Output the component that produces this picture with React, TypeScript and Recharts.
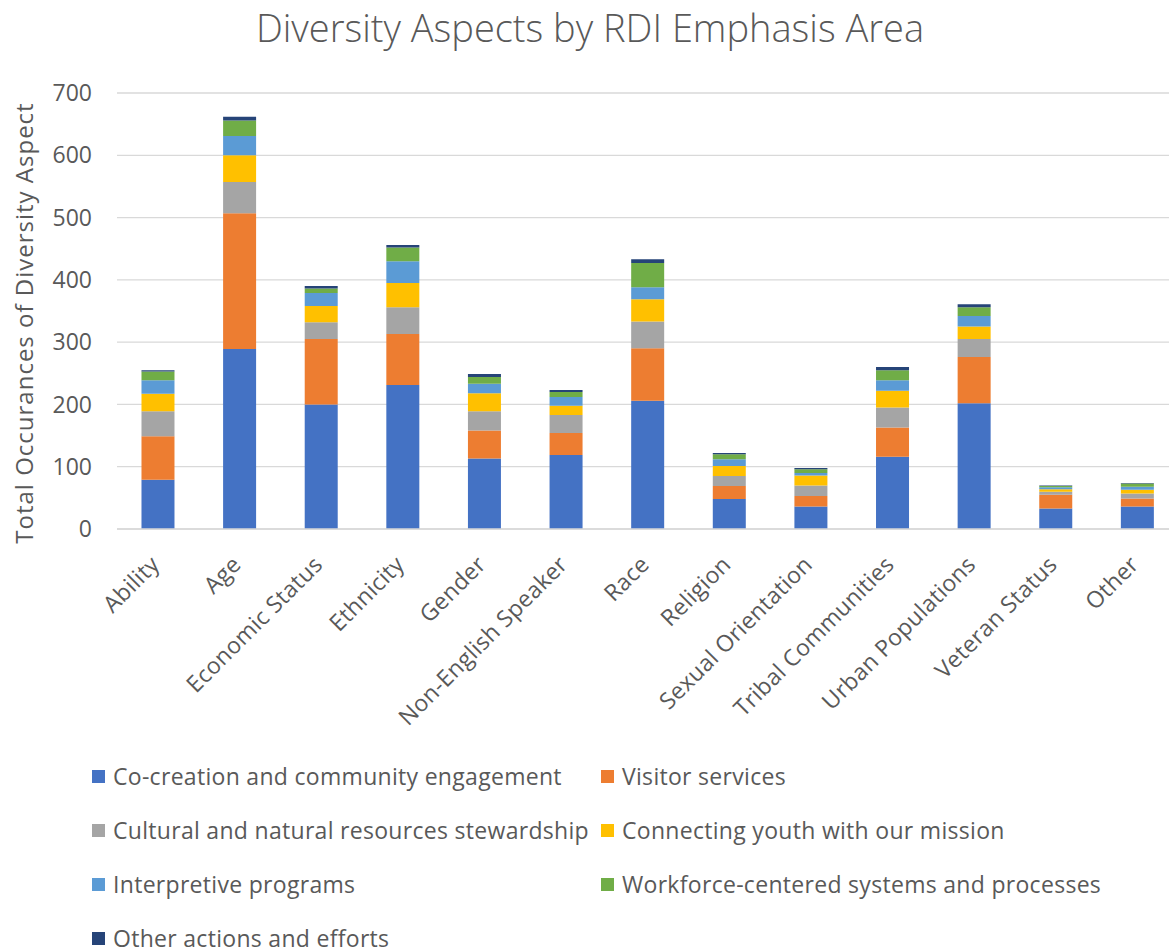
import React from "react";
import { BarChart, Bar, XAxis, YAxis, CartesianGrid } from "recharts";

const categories = [
  "Ability",
  "Age",
  "Economic Status",
  "Ethnicity",
  "Gender",
  "Non-English Speaker",
  "Race",
  "Religion",
  "Sexual Orientation",
  "Tribal Communities",
  "Urban Populations",
  "Veteran Status",
  "Other",
];

const coCreation = [79, 289, 200, 231, 113, 119, 206, 48, 36, 116, 202, 33, 36];
const visitorServices = [70, 218, 105, 82, 45, 35, 84, 21, 17, 47, 74, 22, 13];
const stewardship = [40, 50, 27, 43, 31, 29, 43, 16, 17, 32, 29, 5, 8];
const youth = [28, 43, 26, 39, 29, 15, 36, 16, 16, 27, 20, 4, 6];
const interpretive = [22, 31, 21, 35, 15, 14, 19, 11, 4, 17, 17, 3, 5];
const workforce = [14, 25, 7, 22, 11, 8, 39, 8, 6, 16, 14, 2, 5];
const otherActions = [2, 6, 4, 4, 5, 3, 6, 2, 2, 5, 5, 1, 1];

const yTicks = [0, 100, 200, 300, 400, 500, 600, 700];

const seriesDefs = [
  { key: "s1", name: "Co-creation and community engagement", values: coCreation, color: "#4472C4" },
  { key: "s2", name: "Visitor services", values: visitorServices, color: "#ED7D31" },
  { key: "s3", name: "Cultural and natural resources stewardship", values: stewardship, color: "#A5A5A5" },
  { key: "s4", name: "Connecting youth with our mission", values: youth, color: "#FFC000" },
  { key: "s5", name: "Interpretive programs", values: interpretive, color: "#5B9BD5" },
  { key: "s6", name: "Workforce-centered systems and processes", values: workforce, color: "#70AD47" },
  { key: "s7", name: "Other actions and efforts", values: otherActions, color: "#264478" },
];

const data = categories.map((c, i) => {
  const row: Record<string, string | number> = { category: c };
  seriesDefs.forEach((s) => {
    row[s.key] = s.values[i];
  });
  return row;
});

const FONT = "'Open Sans', Lato, sans-serif";
const TEXT = "#595959";

const XTick = (props: any) => {
  const { x, y, payload } = props;
  return (
    <g transform={`translate(${x + 3},${y + 29})`}>
      <text
        transform="rotate(-45)"
        textAnchor="end"
        fill={TEXT}
        fontSize={23}
        letterSpacing={0.3}
        fontFamily={FONT}
      >
        {payload.value}
      </text>
    </g>
  );
};

export default function App() {
  return (
    <div
      style={{
        position: "absolute",
        left: 0,
        top: 0,
        width: 1169,
        height: 950,
        background: "#fff",
        fontFamily: FONT,
        overflow: "hidden",
      }}
    >
      <div
        style={{
          position: "absolute",
          left: 0,
          width: 1180,
          top: 5,
          textAlign: "center",
          fontSize: 38,
          fontWeight: 300,
          color: TEXT,
          lineHeight: "44px",
        }}
      >
        Diversity Aspects by RDI Emphasis Area
      </div>
      <div
        style={{
          position: "absolute",
          left: 23,
          top: 323,
          transform: "translate(-50%, -50%) rotate(-90deg)",
          whiteSpace: "nowrap",
          fontSize: 24,
          letterSpacing: 1,
          color: TEXT,
        }}
      >
        Total Occurances of Diversity Aspect
      </div>
      <div style={{ position: "absolute", left: 0, top: 0 }}>
        <BarChart
          width={1200}
          height={950}
          data={data}
          margin={{ top: 93, right: 22, left: 0, bottom: 201 }}
          barCategoryGap="30%"
        >
          <CartesianGrid vertical={false} stroke="#D9D9D9" strokeWidth={1.3} />
          <XAxis
            dataKey="category"
            interval={0}
            height={220}
            tickLine={false}
            axisLine={{ stroke: "#D9D9D9", strokeWidth: 1.3 }}
            tick={<XTick />}
          />
          <YAxis
            width={117}
            domain={[0, 700]}
            ticks={yTicks}
            tickLine={false}
            axisLine={false}
            tickSize={0}
            tickMargin={25}
            tick={{ fill: TEXT, fontSize: 23, fontFamily: FONT }}
          />
          {seriesDefs.map((s) => (
            <Bar
              key={s.key}
              dataKey={s.key}
              name={s.name}
              stackId="a"
              fill={s.color}
              isAnimationActive={false}
            />
          ))}
        </BarChart>
      </div>
      {seriesDefs.map((s, i) => {
        const col = i % 2;
        const row = Math.floor(i / 2);
        const left = col === 0 ? 92 : 601;
        const top = 776 + row * 54;
        return (
          <div
            key={s.key}
            style={{
              position: "absolute",
              left,
              top: top - 15,
              height: 30,
              display: "flex",
              alignItems: "center",
              whiteSpace: "nowrap",
            }}
          >
            <div style={{ width: 13, height: 13, background: s.color, marginRight: 8 }} />
            <span style={{ fontSize: 23, color: TEXT, letterSpacing: 0.3 }}>{s.name}</span>
          </div>
        );
      })}
    </div>
  );
}
